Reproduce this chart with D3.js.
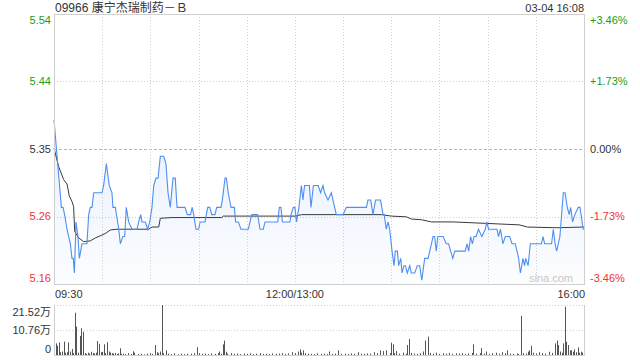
<!DOCTYPE html>
<html>
<head>
<meta charset="utf-8">
<script src="https://cdn.jsdelivr.net/npm/d3@7"></script>
<style>
  body { margin: 0; background: #fff; }
  svg { display: block; font-family: "Liberation Sans", Arial, "Noto Sans CJK SC", sans-serif; }
  .grid { stroke: #d0d0d0; stroke-dasharray: 1,2; }
  .frame { stroke: #cfcfcf; fill: none; }
</style>
</head>
<body>
<svg id="chart"></svg>
<script>
// base svg values
let width = 640
let height = 360

let title = "09966 康宁杰瑞制药－Ｂ"
let stamp = "03-04 16:08"
let prevClose = 5.35

// percent ticks on the right, price ticks on the left come from them
let pctTicks = [3.46, 1.73, 0, -1.73, -3.46]
let volTicks = [21.52, 10.76, 0]
let timeTicks = [0, 150, 330]
let timeLabels = ["09:30", "12:00/13:00", "16:00"]

// [minute from 09:30 (lunch removed), price]
let price = [
  [0,5.39],[4.6,5.27],[5.6,5.27],[6.6,5.26],[8.1,5.24],[10.2,5.22],[11.2,5.20],[12,5.20],[12.7,5.18],
  [13.7,5.25],[14.9,5.23],[15.8,5.20],[17.4,5.22],[20.5,5.22],[21.6,5.26],[22.6,5.27],[23.7,5.27],
  [24.7,5.29],[29.9,5.29],[30.9,5.30],[32.6,5.33],[34.4,5.30],[36.1,5.29],[36.7,5.27],[38.2,5.27],
  [40.3,5.24],[41.3,5.22],[42.8,5.23],[44,5.23],[45,5.27],[46.5,5.25],[48.6,5.24],[51.7,5.24],
  [52.7,5.25],[54,5.26],[54.8,5.25],[56.9,5.25],[58.3,5.24],[59.6,5.25],[61,5.27],[62.1,5.30],
  [63.5,5.31],[64.8,5.31],[66.2,5.34],[68.3,5.34],[69.7,5.33],[71,5.29],[72.4,5.27],[74.1,5.31],
  [75.5,5.31],[76.6,5.27],[81.6,5.27],[83,5.26],[85,5.26],[86,5.27],[87,5.26],[88.4,5.24],[90,5.24],
  [91,5.25],[94,5.25],[95.7,5.27],[97,5.27],[98.2,5.26],[100.2,5.26],[101.3,5.27],[104,5.27],
  [104.8,5.28],[106.5,5.31],[107.3,5.31],[108.5,5.29],[110.2,5.27],[112.3,5.27],[113.1,5.25],
  [114.8,5.25],[116.4,5.24],[121,5.24],[123.1,5.26],[126.8,5.26],[128.3,5.24],[130.3,5.24],
  [131.4,5.25],[139.3,5.25],[140.3,5.27],[141.3,5.27],[142.2,5.25],[146.9,5.25],[147.6,5.26],
  [149,5.27],[150,5.27],[151,5.25],[152.5,5.27],[154,5.30],[155,5.28],[156,5.30],[159,5.30],
  [160,5.27],[161.5,5.30],[164.5,5.30],[166,5.29],[167.5,5.30],[168.5,5.29],[170.6,5.28],
  [172.7,5.29],[173.7,5.28],[175.8,5.26],[180,5.26],[182,5.27],[194.5,5.27],[195.5,5.28],
  [197.2,5.28],[198.6,5.26],[200.2,5.28],[203.3,5.28],[204.9,5.26],[205.6,5.26],[206.9,5.24],
  [208,5.25],[209,5.24],[210.5,5.21],[211.7,5.19],[212.5,5.21],[213.8,5.21],[214.6,5.19],
  [215.9,5.20],[216.7,5.18],[217.9,5.19],[218.8,5.19],[220,5.18],[221.5,5.19],[222.5,5.18],
  [224.6,5.18],[226.2,5.19],[227.7,5.19],[229,5.17],[230.8,5.20],[232.9,5.20],[235,5.22],
  [236,5.23],[237,5.23],[238,5.21],[239,5.23],[242.3,5.23],[244.2,5.22],[245.7,5.22],[247,5.21],
  [248.3,5.20],[249.5,5.21],[256,5.21],[257.2,5.22],[258.2,5.21],[259.4,5.23],[260.5,5.22],
  [261.5,5.23],[262.8,5.23],[264.3,5.24],[266.4,5.23],[268.5,5.24],[269.5,5.25],[270.6,5.24],
  [275.8,5.24],[276.8,5.23],[278,5.24],[279.5,5.22],[281,5.23],[283.7,5.23],[285.2,5.22],
  [287.2,5.22],[288.3,5.21],[289.3,5.20],[290.4,5.18],[292,5.20],[293,5.19],[293.7,5.20],
  [295.2,5.19],[296.6,5.22],[303.5,5.22],[304.5,5.23],[305.5,5.22],[309.8,5.22],[310.9,5.24],
  [312,5.22],[313,5.21],[315,5.23],[317.1,5.29],[318.2,5.29],[319.6,5.27],[320.8,5.26],
  [321.7,5.27],[322.9,5.25],[324.3,5.26],[326.4,5.27],[327.5,5.27],[329.5,5.24],[330,5.24]
]

// [minute, average price]
let avgPrice = [
  [0,5.351],[2.9,5.326],[6,5.308],[8.1,5.302],[9.5,5.286],[11.2,5.278],[12.2,5.271],[12.9,5.237],
  [15.4,5.228],[18.5,5.223],[22.6,5.224],[25.7,5.228],[28.8,5.231],[31.9,5.234],[35.1,5.239],
  [39.2,5.240],[59,5.240],[61,5.243],[65.2,5.243],[66.2,5.255],[73.5,5.256],[104.4,5.256],
  [105.4,5.258],[150,5.258],[154.2,5.260],[203.8,5.260],[210,5.258],[219.4,5.257],[222.5,5.254],
  [228.8,5.253],[235,5.250],[248.5,5.250],[268.9,5.248],[289.6,5.246],[294.8,5.243],
  [313.4,5.242],[330,5.243]
]

// [minute, volume in 万 shares]
let volume = [
  [0,3.5],[1,5.0],[2,4.0],[3,5.4],[4,1.2],[5,1.5],[6,5.8],[7,1.0],[8,1.2],[9,5.4],[10,1.5],[11,2.6],
  [12,0.8],[13,18.2],[14,12.2],[15,1.0],[16,8.2],[17,11.5],[18,10.0],[19,0.8],[20,0.5],[21,1.0],
  [22,0.6],[23,1.4],[24,0.9],[25,0.7],[26,1.0],[27,6.0],[28,4.8],[29,1.2],[30,1.4],[31,4.6],
  [32,0.8],[33,5.5],[34,1.5],[35,1.0],[36,0.8],[37,0.6],[38,0.9],[39,0.4],[40,0.7],[41,2.9],
  [42,0.5],[43,0.6],[44,0.4],[46,0.8],[48,0.5],[49,1.6],[50,1.0],[52,0.4],[54,0.6],[56,0.3],
  [58,0.6],[60,0.8],[61,0.5],[63,4.3],[64,1.2],[65,0.8],[66,1.5],[67,21.5],[68,0.8],[70,2.0],
  [71,0.6],[73,0.4],[75,0.8],[77,0.3],[79,0.6],[81,0.4],[83,0.5],[85,0.6],[87,0.8],[89,3.3],
  [90,0.8],[92,0.5],[94,0.6],[96,0.4],[98,0.7],[100,0.5],[102,0.8],[103,1.5],[104,0.6],[105,4.6],
  [106,6.2],[107,1.4],[108,0.6],[110,0.8],[112,0.5],[114,0.7],[116,0.4],[118,0.6],[120,0.5],
  [122,0.7],[124,0.4],[126,0.6],[128,0.8],[130,0.5],[132,0.6],[134,0.4],[136,0.7],[138,0.5],
  [140,0.6],[142,0.8],[144,0.5],[146,0.7],[148,1.2],[150,0.8],[152,1.5],[153,2.4],[154,1.0],
  [155,2.0],[156,0.8],[158,0.6],[160,0.5],[162,0.4],[164,0.7],[166,0.5],[168,0.6],[170,0.4],
  [171,1.5],[173,0.5],[175,0.6],[177,2.0],[179,0.5],[181,0.6],[183,0.4],[185,0.7],[187,0.5],
  [189,1.2],[191,0.6],[193,0.5],[195,0.7],[197,0.6],[199,1.2],[201,0.8],[203,2.0],[205,1.7],
  [207,2.0],[209,0.8],[210,5.3],[211,4.6],[212,0.8],[213,1.7],[215,0.6],[217,1.0],[219,0.5],
  [220,4.3],[221,6.9],[222,0.9],[224,0.6],[226,0.5],[228,0.8],[230,1.5],[231,6.2],[233,7.9],
  [234,0.9],[236,0.6],[238,1.0],[240,0.5],[242,0.8],[244,0.6],[246,0.9],[248,0.5],[250,0.7],
  [252,0.6],[254,0.8],[256,0.5],[258,0.7],[260,0.9],[261,4.6],[263,0.6],[265,0.8],[266,3.0],
  [268,0.6],[269,1.5],[271,0.5],[273,0.8],[275,1.0],[277,0.6],[279,1.2],[281,0.8],[282,2.0],
  [284,0.6],[286,0.5],[288,0.7],[289,0.4],[291,16.9],[292,0.8],[294,0.6],[295,1.4],[296,2.0],
  [297,4.0],[298,1.0],[300,0.7],[302,1.2],[304,0.8],[306,0.6],[308,1.4],[310,0.9],[312,5.0],
  [313,6.2],[314,4.3],[315,1.5],[316,1.0],[317,5.0],[318,20.8],[319,5.7],[320,4.3],[321,2.0],
  [322,2.0],[323,1.4],[324,2.4],[325,1.2],[326,3.3],[327,1.0],[328,1.4],[329,1.0],[330,0.8]
]

let plot = { left: 54, right: 584, top: 14, bottom: 284 }
let vplot = { top: 305, bottom: 355 }

let green = "#1a9e1a", red = "#f03232", dark = "#333"
let colorOf = v => v > 0 ? green : (v < 0 ? red : dark)

let svg = d3.select("#chart").attr("width", width).attr("height", height)

let xScale = d3.scaleLinear().domain([0, 330]).range([plot.left, plot.right])
let yScale = d3.scaleLinear()
  .domain([prevClose * (1 - 0.0346), prevClose * (1 + 0.0346)])
  .range([plot.bottom, plot.top])
let vScale = d3.scaleLinear().domain([0, 21.52]).range([vplot.bottom, vplot.top])

// gradient for the area
let grad = svg.append("defs").append("linearGradient")
  .attr("id", "fillGrad").attr("gradientUnits", "userSpaceOnUse")
  .attr("x1", 0).attr("x2", 0).attr("y1", plot.top).attr("y2", plot.bottom)
grad.append("stop").attr("offset", "0%").attr("stop-color", "#4f8ff0").attr("stop-opacity", 0.2)
grad.append("stop").attr("offset", "100%").attr("stop-color", "#4f8ff0").attr("stop-opacity", 0.02)

//grid
let pctY = p => yScale(prevClose * (1 + p / 100))
svg.append("g").selectAll("line")
  .data(pctTicks.filter(p => Math.abs(p) < 3))
  .enter().append("line")
    .attr("class", "grid")
    .attr("x1", plot.left).attr("x2", plot.right)
    .attr("y1", d => Math.round(pctY(d)) + 0.5).attr("y2", d => Math.round(pctY(d)) + 0.5)
    .style("stroke", d => d === 0 ? "#b5b5b5" : null)
    .style("stroke-dasharray", d => d === 0 ? "3,2" : null)

svg.append("g").selectAll("line")
  .data(d3.range(30, 330, 30))
  .enter().append("line")
    .attr("class", "grid")
    .attr("x1", d => Math.round(xScale(d)) + 0.5).attr("x2", d => Math.round(xScale(d)) + 0.5)
    .attr("y1", plot.top).attr("y2", plot.bottom)

svg.append("g").selectAll("line")
  .data(volTicks.filter(v => v > 0))
  .enter().append("line")
    .attr("class", "grid")
    .attr("x1", plot.left).attr("x2", plot.right)
    .attr("y1", d => Math.round(vScale(d)) + 0.5).attr("y2", d => Math.round(vScale(d)) + 0.5)

// area + lines
let area = d3.area().x(d => xScale(d[0])).y0(plot.bottom).y1(d => yScale(d[1]))
let line = d3.line().x(d => xScale(d[0])).y(d => yScale(d[1]))

svg.append("path").datum(price).attr("d", area).attr("fill", "url(#fillGrad)")

svg.append("text")
  .attr("x", 573).attr("y", 282)
  .attr("text-anchor", "end")
  .attr("font-size", 11)
  .attr("fill", "#c8c8c8")
  .text("sina.com")

svg.append("path").datum(avgPrice).attr("d", line)
  .attr("fill", "none").attr("stroke", "#3a3a3a").attr("stroke-width", 1)
svg.append("path").datum(price).attr("d", line)
  .attr("fill", "none").attr("stroke", "#4f8ff0").attr("stroke-width", 1.1)

// volume bars
svg.append("g").selectAll("rect")
  .data(volume)
  .enter().append("rect")
    .attr("x", d => Math.round(xScale(d[0])))
    .attr("width", 1)
    .attr("y", d => vScale(d[1]))
    .attr("height", d => vplot.bottom - vScale(d[1]))
    .attr("fill", "#555")

//frames
svg.append("rect").attr("class", "frame")
  .attr("x", plot.left + 0.5).attr("y", plot.top + 0.5)
  .attr("width", plot.right - plot.left).attr("height", plot.bottom - plot.top)
svg.append("path").attr("class", "frame")
  .attr("d", `M${plot.left + 0.5},${vplot.top}V${vplot.bottom + 0.5}H${plot.right + 0.5}V${vplot.top}`)

// left price labels and right percent labels
let clampY = (y, lo, hi) => Math.max(lo, Math.min(hi, y))
svg.append("g").selectAll("text")
  .data(pctTicks)
  .enter().append("text")
    .attr("x", 51)
    .attr("y", d => clampY(pctY(d), 20, 278))
    .attr("dy", "0.35em")
    .attr("text-anchor", "end")
    .attr("font-size", 11)
    .attr("fill", d => colorOf(d))
    .text(d => (prevClose * (1 + d / 100)).toFixed(2))

svg.append("g").selectAll("text")
  .data(pctTicks)
  .enter().append("text")
    .attr("x", 590)
    .attr("y", d => clampY(pctY(d), 20, 278))
    .attr("dy", "0.35em")
    .attr("font-size", 11)
    .attr("fill", d => colorOf(d))
    .text(d => (d > 0 ? "+" : "") + d.toFixed(2) + "%")

svg.append("g").selectAll("text")
  .data(volTicks)
  .enter().append("text")
    .attr("x", 51)
    .attr("y", d => clampY(vScale(d), 312, 349))
    .attr("dy", "0.35em")
    .attr("text-anchor", "end")
    .attr("font-size", 11)
    .attr("fill", dark)
    .text(d => d === 0 ? "0" : d.toFixed(2) + "万")

// time labels
svg.append("g").selectAll("text")
  .data(timeTicks)
  .enter().append("text")
    .attr("x", (d, i) => xScale(d) + (i === 0 ? 1 : (i === 2 ? 1 : 0)))
    .attr("y", 294)
    .attr("dy", "0.35em")
    .attr("text-anchor", (d, i) => ["start", "middle", "end"][i])
    .attr("font-size", 11)
    .attr("fill", dark)
    .text((d, i) => timeLabels[i])

// title + time stamp
svg.append("text")
  .attr("x", 55).attr("y", 8).attr("dy", "0.35em")
  .attr("font-size", 12).attr("fill", dark)
  .text(title)
svg.append("text")
  .attr("x", 584).attr("y", 8).attr("dy", "0.35em")
  .attr("text-anchor", "end")
  .attr("font-size", 11).attr("fill", dark)
  .text(stamp)
</script>
</body>
</html>
